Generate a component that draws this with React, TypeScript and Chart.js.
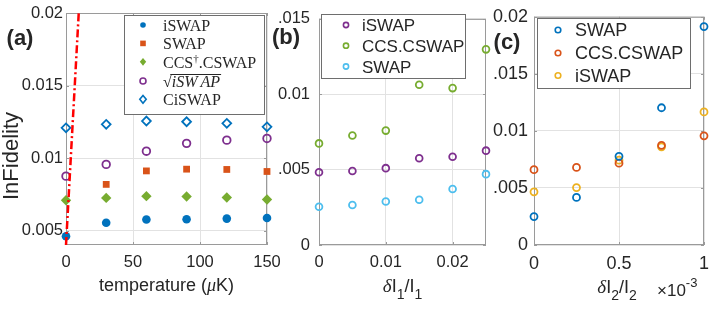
import React, { useEffect, useRef } from 'react';
import { Chart, registerables } from 'chart.js';

Chart.register(...registerables);

const W = 718;
const H = 314;
const SANS = '"Liberation Sans", Arial, Helvetica, sans-serif';
const SERIF = '"Liberation Serif", "Times New Roman", serif';
const TEXT = '#262626';
const GRID = '#e2e2e2';
const BOX = '#9a9a9a';
const LEGEND_EDGE = '#6e6e6e';

const C = {
  blue: '#0072BD',
  orange: '#D95319',
  yellow: '#EDB120',
  purple: '#7E2F8E',
  green: '#77AC30',
  cyan: '#4DBEEE',
  red: '#FF0000',
};

// ---------- Panel (a): InFidelity vs temperature ----------
const tempK = [0, 30, 60, 90, 120, 150];
const aISWAP = [0.0046, 0.00553, 0.00576, 0.00578, 0.00582, 0.00586];
const aSWAP = [null, 0.00818, 0.00911, 0.00923, 0.00921, 0.00907];
const aCCS = [0.00709, 0.00725, 0.00737, 0.00735, 0.00728, 0.00714];
const aSqrtISWAP = [0.00875, 0.00956, 0.01047, 0.01101, 0.01123, 0.01135];
const aCiSWAP = [0.01208, 0.01232, 0.01255, 0.0125, 0.01239, 0.01215];
const limitX = [0, 9.5];
const limitY = [0.004, 0.02];
const aXTicks = [0, 50, 100, 150];
const aXLabels = ['0', '50', '100', '150'];
const aYTicks = [0.005, 0.01, 0.015, 0.02];
const aYLabels = ['0.005', '0.01', '0.015', '0.02'];

// ---------- Panel (b): InFidelity vs dI1/I1 ----------
const dI1 = [0, 0.005, 0.01, 0.015, 0.02, 0.025];
const bISWAP = [0.00483, 0.00491, 0.0051, 0.00576, 0.00585, 0.00626];
const bCCS = [0.00674, 0.00726, 0.00759, 0.01063, 0.01041, 0.01298];
const bSWAP = [0.00254, 0.00265, 0.00289, 0.003, 0.00372, 0.0047];
const bXTicks = [0, 0.01, 0.02];
const bXLabels = ['0', '0.01', '0.02'];
const bYTicks = [0, 0.005, 0.01, 0.015];
const bYLabels = ['0', '.005', '0.01', '.015'];

// ---------- Panel (c): InFidelity vs dI2/I2 (x 10^-3) ----------
const dI2 = [0, 0.25, 0.5, 0.75, 1];
const cSWAP = [0.00249, 0.00417, 0.00777, 0.01203, 0.01914];
const cCCS = [0.0066, 0.0068, 0.00717, 0.00874, 0.00957];
const cISWAP = [0.00466, 0.00503, 0.00743, 0.0086, 0.01166];
const cXTicks = [0, 0.5, 1];
const cXLabels = ['0', '0.5', '1'];
const cYTicks = [0, 0.005, 0.01, 0.015, 0.02];
const cYLabels = ['0', '.005', '0.01', '.015', '0.02'];

type Run = { t: string; font: string; dy?: number; gap?: number };
type Mk = { style: 'circle' | 'rect' | 'diamond'; color: string; filled: boolean; r: number };

function pts(xs: number[], ys: (number | null)[]) {
  const out: { x: number; y: number }[] = [];
  xs.forEach((x, i) => {
    const y = ys[i];
    if (y !== null && y !== undefined) out.push({ x, y });
  });
  return out;
}

function drawRuns(ctx: CanvasRenderingContext2D, runs: Run[], x: number, y: number, align: 'left' | 'center' = 'left') {
  let total = 0;
  for (const r of runs) {
    ctx.font = r.font;
    total += ctx.measureText(r.t).width + (r.gap || 0);
  }
  let cx = align === 'center' ? x - total / 2 : x;
  ctx.textAlign = 'left';
  ctx.textBaseline = 'alphabetic';
  const pos: [number, number][] = [];
  for (const r of runs) {
    ctx.font = r.font;
    const w = ctx.measureText(r.t).width;
    ctx.fillText(r.t, cx, y + (r.dy || 0));
    pos.push([cx, cx + w]);
    cx += w + (r.gap || 0);
  }
  return pos;
}

function drawMarker(ctx: CanvasRenderingContext2D, x: number, y: number, m: Mk) {
  ctx.save();
  ctx.beginPath();
  if (m.style === 'circle') ctx.arc(x, y, m.r, 0, Math.PI * 2);
  else if (m.style === 'rect') ctx.rect(x - m.r, y - m.r, 2 * m.r, 2 * m.r);
  else {
    ctx.moveTo(x, y - m.r * 1.2);
    ctx.lineTo(x + m.r, y);
    ctx.lineTo(x, y + m.r * 1.2);
    ctx.lineTo(x - m.r, y);
    ctx.closePath();
  }
  if (m.filled) {
    ctx.fillStyle = m.color;
    ctx.fill();
  } else {
    ctx.strokeStyle = m.color;
    ctx.lineWidth = 1.6;
    ctx.stroke();
  }
  ctx.restore();
}

type LegendItem = { runs: Run[]; marker: Mk; overline?: boolean };
type LegendCfg = { box: [number, number, number, number]; mx: number; tx: number; rows: number[]; fs: number; items: LegendItem[] };

function drawLegend(ctx: CanvasRenderingContext2D, lg: LegendCfg) {
  ctx.save();
  const [x0, y0, x1, y1] = lg.box;
  ctx.fillStyle = '#ffffff';
  ctx.fillRect(x0, y0, x1 - x0, y1 - y0);
  ctx.strokeStyle = LEGEND_EDGE;
  ctx.lineWidth = 1;
  ctx.strokeRect(x0 + 0.5, y0 + 0.5, x1 - x0, y1 - y0);
  lg.items.forEach((it, i) => {
    const y = lg.rows[i];
    drawMarker(ctx, lg.mx, y, it.marker);
    ctx.fillStyle = TEXT;
    const pos = drawRuns(ctx, it.runs, lg.tx, y + lg.fs * 0.36);
    if (it.overline) {
      ctx.strokeStyle = TEXT;
      ctx.lineWidth = 1;
      ctx.beginPath();
      const top = Math.round(y - lg.fs * 0.42) + 0.5;
      ctx.moveTo(pos[0][1] - 1.5, top);
      ctx.lineTo(pos[pos.length - 1][1] + 1, top);
      ctx.stroke();
    }
  });
  ctx.restore();
}

type Panel = {
  name: string;
  area: { l: number; r: number; t: number; b: number };
  xMin: number; xMax: number; yMin: number; yMax: number;
  xTicks: number[]; xLabels: string[];
  yTicks: number[]; yLabels: string[];
  fs: number; xPad: number; yPad: number;
  datasets: any[];
  legend: LegendCfg;
  draw: (ctx: CanvasRenderingContext2D) => void;
};

function labelFor(ticks: number[], labels: string[], v: number) {
  const i = ticks.findIndex((t) => Math.abs(t - v) < 1e-12);
  return i >= 0 ? labels[i] : '';
}

function decor(p: Panel) {
  return {
    id: 'decor_' + p.name,
    beforeDatasetsDraw(chart: any) {
      const { ctx, chartArea: a, scales } = chart;
      ctx.save();
      ctx.strokeStyle = BOX;
      ctx.lineWidth = 1;
      ctx.strokeRect(a.left + 0.5, a.top + 0.5, a.right - a.left - 1, a.bottom - a.top - 1);
      ctx.beginPath();
      const tl = 3;
      p.xTicks.forEach((v) => {
        const px = Math.round(scales.x.getPixelForValue(v)) + 0.5;
        ctx.moveTo(px, a.bottom);
        ctx.lineTo(px, a.bottom - tl);
        ctx.moveTo(px, a.top);
        ctx.lineTo(px, a.top + tl);
      });
      p.yTicks.forEach((v) => {
        const py = Math.round(scales.y.getPixelForValue(v)) + 0.5;
        ctx.moveTo(a.left, py);
        ctx.lineTo(a.left + tl, py);
        ctx.moveTo(a.right, py);
        ctx.lineTo(a.right - tl, py);
      });
      ctx.stroke();
      ctx.restore();
    },
    afterDraw(chart: any) {
      const ctx = chart.ctx as CanvasRenderingContext2D;
      ctx.save();
      drawLegend(ctx, p.legend);
      ctx.fillStyle = TEXT;
      p.draw(ctx);
      ctx.restore();
    },
  };
}

function makeConfig(p: Panel): any {
  const yW = 60;
  return {
    type: 'scatter',
    data: { datasets: p.datasets },
    options: {
      responsive: false,
      animation: false,
      devicePixelRatio: 1,
      events: [],
      layout: { padding: { left: p.area.l - yW, right: W - p.area.r, top: p.area.t, bottom: 0 } },
      plugins: { legend: { display: false }, tooltip: { enabled: false } },
      scales: {
        x: {
          type: 'linear',
          min: p.xMin,
          max: p.xMax,
          afterBuildTicks: (s: any) => { s.ticks = p.xTicks.map((v) => ({ value: v })); },
          afterFit: (s: any) => { s.height = H - p.area.b; },
          grid: { color: GRID, drawTicks: false, lineWidth: 1 },
          border: { display: false },
          ticks: {
            font: { family: SANS, size: p.fs },
            color: TEXT,
            padding: p.xPad,
            maxRotation: 0,
            autoSkip: false,
            callback: (v: number) => labelFor(p.xTicks, p.xLabels, v),
          },
        },
        y: {
          type: 'linear',
          min: p.yMin,
          max: p.yMax,
          afterBuildTicks: (s: any) => { s.ticks = p.yTicks.map((v) => ({ value: v })); },
          afterFit: (s: any) => { s.width = yW; },
          grid: { color: GRID, drawTicks: false, lineWidth: 1 },
          border: { display: false },
          ticks: {
            font: { family: SANS, size: p.fs },
            color: TEXT,
            padding: p.yPad,
            autoSkip: false,
            callback: (v: number) => labelFor(p.yTicks, p.yLabels, v),
          },
        },
      },
    },
    plugins: [decor(p)],
  };
}

function openCircle(label: string, data: any[], color: string, r: number) {
  return {
    label, data, pointStyle: 'circle', pointRadius: r, borderWidth: 1.8,
    borderColor: color, backgroundColor: 'rgba(0,0,0,0)', clip: false,
  };
}

const panelA: Panel = {
  name: 'a',
  area: { l: 66, r: 267, t: 13, b: 245 },
  xMin: 0, xMax: 150, yMin: 0.004, yMax: 0.02,
  xTicks: aXTicks, xLabels: aXLabels, yTicks: aYTicks, yLabels: aYLabels,
  fs: 16.5, xPad: 8, yPad: 3,
  datasets: [
    {
      type: 'line', label: 'limit', data: pts(limitX, limitY), showLine: true,
      borderColor: C.red, borderWidth: 2.5, borderDash: [8, 3, 2, 3], pointRadius: 0,
      fill: false, order: -1, clip: false,
    },
    { label: 'iSWAP', data: pts(tempK, aISWAP), pointStyle: 'circle', pointRadius: 4.3, borderWidth: 0, backgroundColor: C.blue, borderColor: C.blue, clip: false },
    { label: 'SWAP', data: pts(tempK, aSWAP), pointStyle: 'rect', pointRadius: 4.8, borderWidth: 0, backgroundColor: C.orange, borderColor: C.orange, clip: false },
    { label: 'CCS.CSWAP', data: pts(tempK, aCCS), pointStyle: 'rectRot', pointRadius: 5.2, borderWidth: 0, backgroundColor: C.green, borderColor: C.green, clip: false },
    openCircle('sqrt iSWAP', pts(tempK, aSqrtISWAP), C.purple, 3.8),
    { label: 'CiSWAP', data: pts(tempK, aCiSWAP), pointStyle: 'rectRot', pointRadius: 4.4, borderWidth: 1.8, backgroundColor: 'rgba(0,0,0,0)', borderColor: C.blue, clip: false },
  ],
  legend: {
    box: [124, 15, 264, 114], mx: 143, tx: 163, rows: [25, 43.4, 61.8, 81, 99.3], fs: 16,
    items: [
      { runs: [{ t: 'iSWAP', font: `16px ${SERIF}` }], marker: { style: 'circle', color: C.blue, filled: true, r: 2.8 } },
      { runs: [{ t: 'SWAP', font: `16px ${SERIF}` }], marker: { style: 'rect', color: C.orange, filled: true, r: 2.8 } },
      {
        runs: [
          { t: 'CCS', font: `16px ${SERIF}` },
          { t: '\u2020', font: `11px ${SERIF}`, dy: -6 },
          { t: '.CSWAP', font: `16px ${SERIF}` },
        ],
        marker: { style: 'diamond', color: C.green, filled: true, r: 3.2 },
      },
      {
        runs: [
          { t: '\u221A', font: `16px ${SERIF}` },
          { t: 'iSW', font: `italic 16px ${SERIF}`, gap: 3 },
          { t: 'AP', font: `italic 16px ${SERIF}` },
        ],
        marker: { style: 'circle', color: C.purple, filled: false, r: 3 },
        overline: true,
      },
      { runs: [{ t: 'CiSWAP', font: `16px ${SERIF}` }], marker: { style: 'diamond', color: C.blue, filled: false, r: 3.2 } },
    ],
  },
  draw: (ctx) => {
    ctx.font = `bold 22px ${SANS}`;
    ctx.textAlign = 'center';
    ctx.textBaseline = 'middle';
    ctx.fillText('(a)', 20, 39);
    ctx.save();
    ctx.translate(12, 156);
    ctx.rotate(-Math.PI / 2);
    ctx.font = `22px ${SANS}`;
    ctx.textAlign = 'center';
    ctx.textBaseline = 'middle';
    ctx.fillText('InFidelity', 0, 0);
    ctx.restore();
    drawRuns(ctx, [
      { t: 'temperature (', font: `18px ${SANS}` },
      { t: '\u03BC', font: `italic 18px ${SERIF}` },
      { t: 'K)', font: `18px ${SANS}` },
    ], 166.5, 291, 'center');
  },
};

const panelB: Panel = {
  name: 'b',
  area: { l: 319, r: 486, t: 13, b: 245 },
  xMin: 0, xMax: 0.025, yMin: 0, yMax: 0.015,
  xTicks: bXTicks, xLabels: bXLabels, yTicks: bYTicks, yLabels: bYLabels,
  fs: 16.5, xPad: 8, yPad: 9,
  datasets: [
    openCircle('iSWAP', pts(dI1, bISWAP), C.purple, 3.4),
    openCircle('CCS.CSWAP', pts(dI1, bCCS), C.green, 3.4),
    openCircle('SWAP', pts(dI1, bSWAP), C.cyan, 3.4),
  ],
  legend: {
    box: [321, 14, 465, 78], mx: 346, tx: 362, rows: [25, 45.7, 66.5], fs: 17,
    items: [
      { runs: [{ t: 'iSWAP', font: `17px ${SANS}` }], marker: { style: 'circle', color: C.purple, filled: false, r: 2.6 } },
      { runs: [{ t: 'CCS.CSWAP', font: `17px ${SANS}` }], marker: { style: 'circle', color: C.green, filled: false, r: 2.6 } },
      { runs: [{ t: 'SWAP', font: `17px ${SANS}` }], marker: { style: 'circle', color: C.cyan, filled: false, r: 2.6 } },
    ],
  },
  draw: (ctx) => {
    ctx.font = `bold 22px ${SANS}`;
    ctx.textAlign = 'center';
    ctx.textBaseline = 'middle';
    ctx.fillText('(b)', 286, 38);
    drawRuns(ctx, [
      { t: '\u03B4', font: `italic 19px ${SERIF}` },
      { t: 'I', font: `18px ${SANS}` },
      { t: '1', font: `14px ${SANS}`, dy: 7 },
      { t: '/I', font: `18px ${SANS}` },
      { t: '1', font: `14px ${SANS}`, dy: 7 },
    ], 402.5, 292, 'center');
  },
};

const panelC: Panel = {
  name: 'c',
  area: { l: 534, r: 704, t: 13, b: 245 },
  xMin: 0, xMax: 1, yMin: 0, yMax: 0.02,
  xTicks: cXTicks, xLabels: cXLabels, yTicks: cYTicks, yLabels: cYLabels,
  fs: 18, xPad: 8, yPad: 6,
  datasets: [
    openCircle('SWAP', pts(dI2, cSWAP), C.blue, 3.5),
    openCircle('CCS.CSWAP', pts(dI2, cCCS), C.orange, 3.5),
    openCircle('iSWAP', pts(dI2, cISWAP), C.yellow, 3.5),
  ],
  legend: {
    box: [537, 18, 690, 88], mx: 558, tx: 575, rows: [30, 53, 75.5], fs: 18,
    items: [
      { runs: [{ t: 'SWAP', font: `18px ${SANS}` }], marker: { style: 'circle', color: C.blue, filled: false, r: 2.8 } },
      { runs: [{ t: 'CCS.CSWAP', font: `18px ${SANS}` }], marker: { style: 'circle', color: C.orange, filled: false, r: 2.8 } },
      { runs: [{ t: 'iSWAP', font: `18px ${SANS}` }], marker: { style: 'circle', color: C.yellow, filled: false, r: 2.8 } },
    ],
  },
  draw: (ctx) => {
    ctx.font = `bold 22px ${SANS}`;
    ctx.textAlign = 'center';
    ctx.textBaseline = 'middle';
    ctx.fillText('(c)', 507, 43);
    drawRuns(ctx, [
      { t: '\u03B4', font: `italic 19px ${SERIF}` },
      { t: 'I', font: `18px ${SANS}` },
      { t: '2', font: `14px ${SANS}`, dy: 7 },
      { t: '/I', font: `18px ${SANS}` },
      { t: '2', font: `14px ${SANS}`, dy: 7 },
    ], 617, 293, 'center');
    drawRuns(ctx, [
      { t: '\u00D710', font: `17px ${SANS}` },
      { t: '-3', font: `13px ${SANS}`, dy: -9 },
    ], 657, 296, 'left');
  },
};

const panels = [panelA, panelB, panelC];

function PanelCanvas({ panel }: { panel: Panel }) {
  const ref = useRef<HTMLCanvasElement | null>(null);
  useEffect(() => {
    if (!ref.current) return;
    const chart = new Chart(ref.current, makeConfig(panel));
    return () => chart.destroy();
  }, [panel]);
  return (
    <canvas
      ref={ref}
      width={W}
      height={H}
      style={{ position: 'absolute', left: 0, top: 0, width: W, height: H }}
    />
  );
}

export default function App() {
  return (
    <div style={{ position: 'fixed', left: 0, top: 0, width: W, height: H, background: '#ffffff', overflow: 'hidden' }}>
      {panels.map((p) => (
        <PanelCanvas key={p.name} panel={p} />
      ))}
    </div>
  );
}
